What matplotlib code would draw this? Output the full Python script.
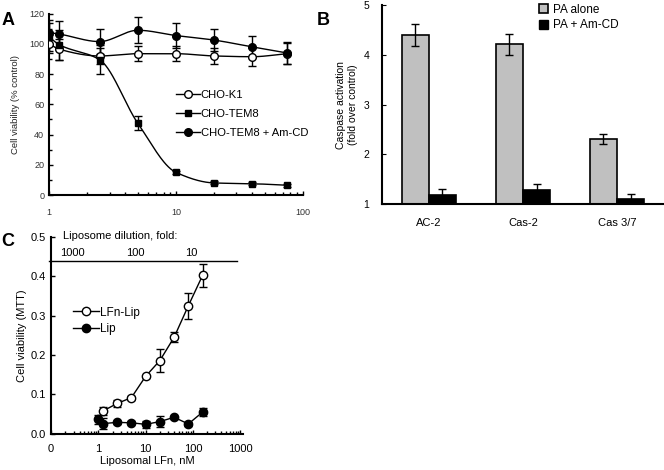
import numpy as np
import matplotlib
matplotlib.use('Agg')
import matplotlib.pyplot as plt
from matplotlib.lines import Line2D
from matplotlib.patches import Patch

plt.rcParams['font.family'] = ['Liberation Sans', 'DejaVu Sans']

# ---- panel A data ----
dose_a = [1, 1.2, 2.5, 5, 10, 20, 40, 75]
k1 = [100, 96.5, 92, 93.5, 93.5, 92, 91.5, 93.5]
k1_err = [6, 7, 5, 5, 5, 5, 6, 7]
tem8 = [104.5, 99.5, 89.5, 47.5, 15, 8, 7.5, 6.5]
tem8_err = [9, 10, 9.5, 4.5, 1, 1, 1, 1]
amcd = [107.5, 106.5, 101.5, 109, 105.5, 102.5, 98, 94]
amcd_err = [8, 8.5, 8.5, 8.5, 8, 7.5, 7.5, 7.5]

# ---- panel B data ----
caspases = ['AC-2', 'Cas-2', 'Cas 3/7']
pa_alone = [4.4, 4.21, 2.3]
pa_alone_err = [0.22, 0.21, 0.1]
pa_amcd = [1.19, 1.29, 1.1]
pa_amcd_err = [0.12, 0.12, 0.1]

# ---- panel C data ----
lfn_lip_x = [1.25, 2.5, 5, 10, 20, 40, 80, 160]
lfn_lip = [0.058, 0.077, 0.092, 0.146, 0.186, 0.245, 0.325, 0.402]
lfn_lip_err = [0.01, 0.008, 0.005, 0.004, 0.03, 0.013, 0.033, 0.028]
lip_x = [1, 1.25, 2.5, 5, 10, 20, 40, 80, 160]
lip = [0.037, 0.026, 0.029, 0.028, 0.024, 0.031, 0.042, 0.025, 0.055]
lip_err = [0.012, 0.015, 0.004, 0.004, 0.008, 0.014, 0.004, 0.004, 0.01]
dilution_labels = ['1000', '100', '10']


def pchip_line(x, y, n=300):
    # smooth monotone curve through the points (log x)
    lx = np.log10(np.asarray(x, float))
    y = np.asarray(y, float)
    h = np.diff(lx)
    d = np.diff(y) / h
    m = np.zeros_like(y)
    for i in range(1, len(y) - 1):
        if d[i - 1] * d[i] > 0:
            w1 = 2 * h[i] + h[i - 1]
            w2 = h[i] + 2 * h[i - 1]
            m[i] = (w1 + w2) / (w1 / d[i - 1] + w2 / d[i])
    m[0] = d[0]
    m[-1] = d[-1]
    xs = np.linspace(lx[0], lx[-1], n)
    idx = np.clip(np.searchsorted(lx, xs) - 1, 0, len(h) - 1)
    t = (xs - lx[idx]) / h[idx]
    h00 = 2 * t**3 - 3 * t**2 + 1
    h10 = t**3 - 2 * t**2 + t
    h01 = -2 * t**3 + 3 * t**2
    h11 = t**3 - t**2
    ys = h00 * y[idx] + h10 * h[idx] * m[idx] + h01 * y[idx + 1] + h11 * h[idx] * m[idx + 1]
    return 10**xs, ys


fig = plt.figure(figsize=(6.64, 4.70), dpi=100)

# ================= A =================
axA = fig.add_axes([0.074, 0.585, 0.382, 0.386])
for yv, err, mk, fc, ms in [(k1, k1_err, 'o', 'white', 5.5),
                            (tem8, tem8_err, 's', 'black', 4.5),
                            (amcd, amcd_err, 'o', 'black', 5.5)]:
    sx, sy = pchip_line(dose_a, yv)
    axA.plot(sx, sy, color='black', lw=1.0, zorder=2)
    axA.errorbar(dose_a, yv, yerr=err, fmt=mk, mfc=fc, mec='black', ms=ms,
                 ecolor='black', elinewidth=1.0, capsize=3, capthick=1.0, mew=1.0, zorder=3)
axA.set_xscale('log')
axA.set_xlim(1, 100)
axA.set_ylim(0, 120)
axA.set_yticks(range(0, 121, 20))
axA.set_yticks(range(10, 120, 20), minor=True)
axA.set_xticks([1, 10, 100])
axA.set_xticklabels(['1', '10', '100'])
axA.spines['top'].set_visible(False)
axA.spines['right'].set_visible(False)
axA.spines['left'].set_linewidth(1.5)
axA.spines['bottom'].set_linewidth(1.5)
axA.tick_params(axis='both', which='both', direction='in', labelsize=6.5,
                labelcolor='#333333', width=1.0)
axA.tick_params(axis='both', which='major', length=3)
axA.tick_params(axis='both', which='minor', length=2)
axA.tick_params(axis='x', pad=9)
axA.set_ylabel('Cell viability (% control)', fontsize=6.8, color='#222222', labelpad=7)
handlesA = [Line2D([], [], color='black', marker='o', mfc='white', mec='black', ms=5.5, lw=1),
            Line2D([], [], color='black', marker='s', mfc='black', ms=4.5, lw=1),
            Line2D([], [], color='black', marker='o', mfc='black', ms=5.5, lw=1)]
axA.legend(handlesA, ['CHO-K1', 'CHO-TEM8', 'CHO-TEM8 + Am-CD'], loc='upper left',
           bbox_to_anchor=(0.46, 0.635), frameon=False, fontsize=8.1, handlelength=2.1,
           handletextpad=0.1, labelspacing=0.8)
fig.text(0.002, 0.975, 'A', fontsize=13, fontweight='bold', va='top')

# ================= B =================
axB = fig.add_axes([0.575, 0.566, 0.425, 0.423])
xb = np.arange(len(caspases))
bw = 0.29
axB.bar(xb - bw / 2, [v - 1 for v in pa_alone], bw, bottom=1, color='#c0c0c0',
        edgecolor='black', lw=1.2, yerr=pa_alone_err, capsize=3,
        error_kw=dict(elinewidth=1.0, capthick=1.0))
axB.bar(xb + bw / 2, [v - 1 for v in pa_amcd], bw, bottom=1, color='black',
        edgecolor='black', lw=1.2, yerr=pa_amcd_err, capsize=3,
        error_kw=dict(elinewidth=1.0, capthick=1.0))
axB.set_xlim(-0.5, 2.5)
axB.set_ylim(1, 5)
axB.set_yticks([1, 2, 3, 4, 5])
axB.set_xticks(xb)
axB.set_xticklabels(caspases)
axB.spines['top'].set_visible(False)
axB.spines['right'].set_visible(False)
axB.spines['left'].set_linewidth(1.5)
axB.spines['bottom'].set_linewidth(1.5)
axB.tick_params(axis='y', direction='in', length=3, labelsize=7.5, pad=9)
axB.tick_params(axis='x', length=0, labelsize=8, pad=10)
axB.set_ylabel('Caspase activation\n(fold over control)', fontsize=7.5, labelpad=4)
handlesB = [Patch(facecolor='#c0c0c0', edgecolor='black', lw=1.2),
            Patch(facecolor='black', edgecolor='black')]
axB.legend(handlesB, ['PA alone', 'PA + Am-CD'], loc='upper left', bbox_to_anchor=(0.52, 1.06),
           frameon=False, fontsize=8.5, handlelength=0.75, handleheight=0.75,
           handletextpad=0.4, labelspacing=0.3)
fig.text(0.477, 0.975, 'B', fontsize=13, fontweight='bold', va='top')

# ================= C =================
axC = fig.add_axes([0.077, 0.077, 0.289, 0.419])
axC.errorbar(lfn_lip_x, lfn_lip, yerr=lfn_lip_err, fmt='-o', color='black', mfc='white',
             mec='black', ms=6, lw=1.0, elinewidth=1.0, capsize=3, capthick=1.0, mew=1.0)
axC.errorbar(lip_x, lip, yerr=lip_err, fmt='-o', color='black', mfc='black', mec='black',
             ms=6, lw=1.0, elinewidth=1.0, capsize=3, capthick=1.0)
axC.set_xscale('log')
axC.set_xlim(0.1, 1150)
axC.set_ylim(0, 0.5)
axC.set_yticks([0, 0.1, 0.2, 0.3, 0.4, 0.5])
axC.set_yticklabels(['0.0', '0.1', '0.2', '0.3', '0.4', '0.5'])
axC.set_xticks([0.1, 1, 10, 100, 1000])
axC.set_xticklabels(['0', '1', '10', '100', '1000'])
axC.spines['top'].set_visible(False)
axC.spines['right'].set_visible(False)
axC.spines['left'].set_linewidth(1.5)
axC.spines['bottom'].set_linewidth(1.5)
axC.tick_params(axis='both', which='both', direction='in', labelsize=8, width=1.0)
axC.tick_params(axis='both', which='major', length=3)
axC.tick_params(axis='x', which='minor', length=2)
axC.tick_params(axis='x', pad=7)
axC.set_ylabel('Cell viability (MTT)', fontsize=8, labelpad=3)
axC.set_xlabel('Liposomal LFn, nM', fontsize=8, labelpad=2)
# dilution scale on top
axC.axhline(0.44, xmin=-0.01, xmax=0.97, color='black', lw=1.0, clip_on=False)
axC.text(0.06, 0.98, 'Liposome dilution, fold:', transform=axC.transAxes, fontsize=8,
         va='bottom', ha='left')
for lab, fx in zip(dilution_labels, [0.11, 0.44, 0.73]):
    axC.text(fx, 0.895, lab, transform=axC.transAxes, fontsize=8, ha='center', va='bottom')
handlesC = [Line2D([], [], color='black', marker='o', mfc='white', mec='black', ms=6, lw=1),
            Line2D([], [], color='black', marker='o', mfc='black', ms=6, lw=1)]
axC.legend(handlesC, ['LFn-Lip', 'Lip'], loc='upper left', bbox_to_anchor=(0.06, 0.7),
           frameon=False, fontsize=8.5, handlelength=2.2, handletextpad=0.1, labelspacing=0.35)
fig.text(0.002, 0.505, 'C', fontsize=13, fontweight='bold', va='top')

fig.savefig('out.png', dpi=100)
